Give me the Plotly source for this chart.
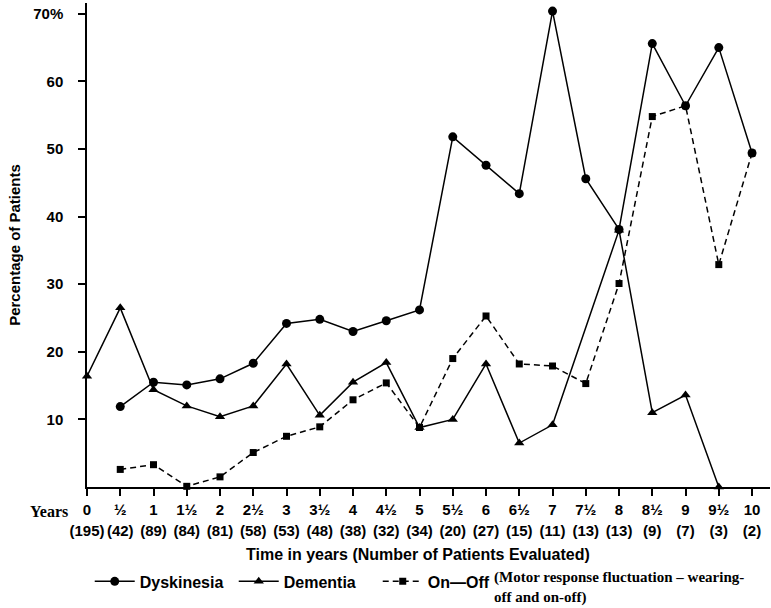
import plotly.graph_objects as go

years = [0, 0.5, 1, 1.5, 2, 2.5, 3, 3.5, 4, 4.5, 5, 5.5, 6, 6.5, 7, 7.5, 8, 8.5, 9, 9.5, 10]
year_labels = ["0", "½", "1", "1½", "2", "2½", "3", "3½", "4", "4½", "5", "5½",
               "6", "6½", "7", "7½", "8", "8½", "9", "9½", "10"]
patients = ["(195)", "(42)", "(89)", "(84)", "(81)", "(58)", "(53)", "(48)", "(38)", "(32)",
            "(34)", "(20)", "(27)", "(15)", "(11)", "(13)", "(13)", "(9)", "(7)", "(3)", "(2)"]

dyskinesia = [None, 11.9, 15.5, 15.1, 16.0, 18.3, 24.2, 24.8, 23.0, 24.6, 26.2,
              51.8, 47.6, 43.4, 70.4, 45.6, 38.1, 65.6, 56.4, 65.0, 49.4]
dementia = [16.4, 26.5, 14.4, 12.0, 10.4, 12.0, 18.2, 10.6, 15.5, 18.4, 8.8,
            10.0, 18.2, 6.5, 9.2, None, 38.0, 11.0, 13.6, 0.0, None]
onoff = [None, 2.6, 3.3, 0.1, 1.5, 5.1, 7.5, 8.9, 12.9, 15.4, 8.8,
         19.0, 25.3, 18.2, 17.9, 15.3, 30.1, 54.8, 56.4, 32.9, 49.4]

y_ticks = [10, 20, 30, 40, 50, 60, 70]
y_ticktext = ["10", "20", "30", "40", "50", "60", "70%"]

BOLD = dict(family="Liberation Sans, Arial, sans-serif", color="black", weight="bold")

fig = go.Figure()
fig.add_trace(go.Scatter(x=years, y=dyskinesia, name="Dyskinesia", mode="lines+markers",
                         line=dict(color="black", width=1.5),
                         marker=dict(symbol="circle", size=9, color="black"),
                         connectgaps=True, cliponaxis=False))
fig.add_trace(go.Scatter(x=years, y=dementia, name="Dementia", mode="lines+markers",
                         line=dict(color="black", width=1.5),
                         marker=dict(symbol="triangle-up", size=9, color="black"),
                         connectgaps=True, cliponaxis=False))
fig.add_trace(go.Scatter(x=years, y=onoff, name="On\u2014Off", mode="lines+markers",
                         line=dict(color="black", width=1.5, dash="6px,4px"),
                         marker=dict(symbol="square", size=7, color="black"),
                         connectgaps=True, cliponaxis=False))

fig.update_layout(
    width=771, height=608,
    margin=dict(l=87, r=1, t=3, b=121, autoexpand=False),
    paper_bgcolor="white", plot_bgcolor="white",
    showlegend=True,
    legend=dict(orientation="h", x=0.004, xanchor="left", y=-0.16, yanchor="top",
                font=dict(size=16, **BOLD), entrywidth=89, entrywidthmode="pixels",
                itemwidth=40, bgcolor="rgba(0,0,0,0)", tracegroupgap=0),
    xaxis=dict(range=[0, 10.27], tickvals=years, automargin=False,
               ticktext=[f"<span style='font-size:15px'>{a}</span><br><span style='font-size:15px'>{b}</span>"
                         for a, b in zip(year_labels, patients)],
               tickfont=dict(size=16, **BOLD), ticks="outside", ticklen=7, tickwidth=1.5,
               tickcolor="black", showline=True, linecolor="black", linewidth=1.5,
               showgrid=False, zeroline=False, tickangle=0),
    yaxis=dict(range=[0, 71.6], tickvals=y_ticks, ticktext=y_ticktext, automargin=False,
               tickfont=dict(size=15, **BOLD), ticks="outside", ticklen=7, tickwidth=1.5,
               tickcolor="black", showline=True, linecolor="black", linewidth=1.5,
               showgrid=False, zeroline=False, ticklabelstandoff=12,
               title=dict(text="Percentage of Patients", font=dict(size=15, **BOLD), standoff=9)),
)

fig.add_annotation(text="Years", xref="paper", yref="paper", x=-0.025, y=-0.0496,
                   xanchor="right", yanchor="middle", showarrow=False,
                   font=dict(family="Liberation Serif, Times New Roman, serif", size=16,
                             color="black", weight="bold"))
fig.add_annotation(text="Time in years (Number of Patients Evaluated)", xref="paper", yref="paper",
                   x=0.485, y=-0.140, xanchor="center", yanchor="middle", showarrow=False,
                   font=dict(size=16, **BOLD))
fig.add_annotation(text="(Motor response fluctuation \u2013 wearing-<br>off and on-off)",
                   xref="paper", yref="paper", x=0.593, y=-0.166, xanchor="left", yanchor="top",
                   align="left", showarrow=False,
                   font=dict(family="Liberation Serif, Times New Roman, serif", size=15,
                             color="black", weight="bold"))

fig.write_html("out.html", config={"displayModeBar": False},
               post_script="document.body.style.margin='0';")
